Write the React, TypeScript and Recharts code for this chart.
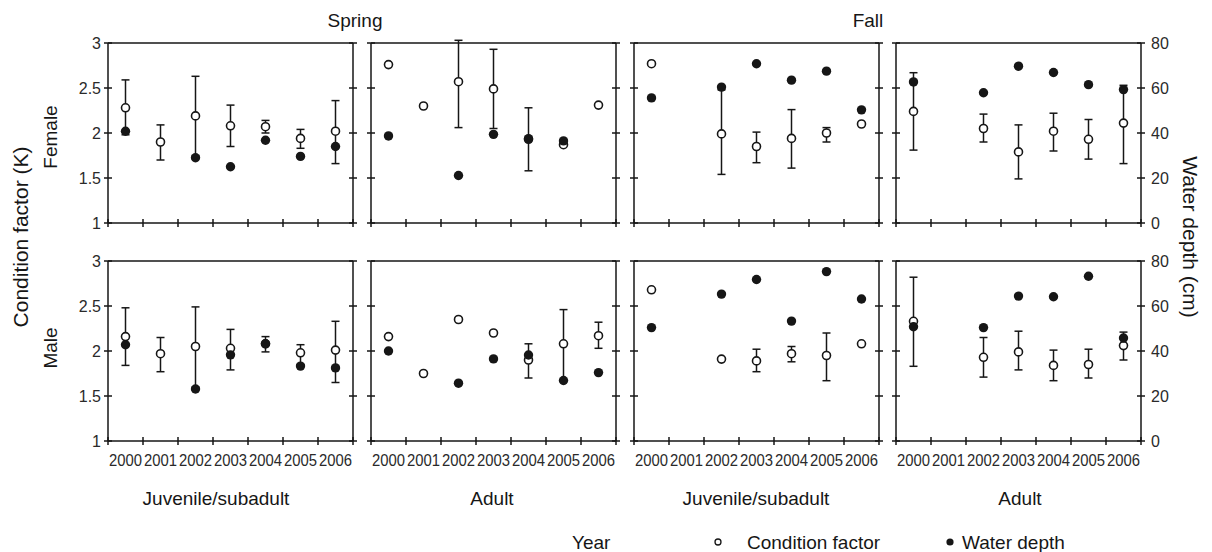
import { ComposedChart, Scatter, XAxis, YAxis, ErrorBar, ReferenceLine } from 'recharts';

const YEARS = ['2000', '2001', '2002', '2003', '2004', '2005', '2006'];
const K_TICKS = [1, 1.5, 2, 2.5, 3];
const DEPTH_TICKS = [0, 20, 40, 60, 80];

// spring, juvenile/subadult
const SPR_JUV_F_K     = [2.28, 1.90, 2.19, 2.08, 2.07, 1.94, 2.02];
const SPR_JUV_F_LO    = [1.98, 1.70, 1.75, 1.85, 2.00, 1.83, 1.66];
const SPR_JUV_F_HI    = [2.59, 2.09, 2.63, 2.31, 2.14, 2.04, 2.36];
const SPR_JUV_F_DEPTH = [40.8, null, 29.0, 25.0, 36.8, 29.6, 34.0];
const SPR_JUV_M_K     = [2.16, 1.97, 2.05, 2.03, 2.08, 1.98, 2.01];
const SPR_JUV_M_LO    = [1.84, 1.77, 1.60, 1.79, 1.99, 1.85, 1.65];
const SPR_JUV_M_HI    = [2.48, 2.15, 2.49, 2.24, 2.16, 2.07, 2.33];
const SPR_JUV_M_DEPTH = [42.8, null, 23.1, 38.3, 43.2, 33.3, 32.5];

// spring, adult
const SPR_AD_F_K      = [2.76, 2.30, 2.57, 2.49, 1.93, 1.87, 2.31];
const SPR_AD_F_LO     = [2.76, 2.30, 2.06, 2.05, 1.58, 1.87, 2.31];
const SPR_AD_F_HI     = [2.76, 2.30, 3.03, 2.93, 2.28, 1.87, 2.31];
const SPR_AD_F_DEPTH  = [38.7, null, 21.1, 39.4, 37.5, 36.5, null];
const SPR_AD_M_K      = [2.16, 1.75, 2.35, 2.20, 1.90, 2.08, 2.17];
const SPR_AD_M_LO     = [2.16, 1.75, 2.35, 2.20, 1.70, 1.68, 2.03];
const SPR_AD_M_HI     = [2.16, 1.75, 2.35, 2.20, 2.08, 2.46, 2.32];
const SPR_AD_M_DEPTH  = [40.0, null, 25.7, 36.5, 38.2, 26.9, 30.4];

// fall, juvenile/subadult
const FALL_JUV_F_K     = [2.77, null, 1.99, 1.85, 1.94, 2.00, 2.10];
const FALL_JUV_F_LO    = [2.77, null, 1.54, 1.67, 1.61, 1.90, 2.10];
const FALL_JUV_F_HI    = [2.77, null, 2.48, 2.01, 2.26, 2.06, 2.10];
const FALL_JUV_F_DEPTH = [55.6, null, 60.4, 70.8, 63.5, 67.5, 50.3];
const FALL_JUV_M_K     = [2.68, null, 1.91, 1.89, 1.97, 1.95, 2.08];
const FALL_JUV_M_LO    = [2.68, null, 1.91, 1.77, 1.88, 1.67, 2.08];
const FALL_JUV_M_HI    = [2.68, null, 1.91, 2.02, 2.05, 2.20, 2.08];
const FALL_JUV_M_DEPTH = [50.4, null, 65.3, 71.8, 53.3, 75.3, 63.1];

// fall, adult
const FALL_AD_F_K      = [2.24, null, 2.05, 1.79, 2.02, 1.93, 2.11];
const FALL_AD_F_LO     = [1.81, null, 1.90, 1.49, 1.80, 1.71, 1.66];
const FALL_AD_F_HI     = [2.67, null, 2.21, 2.09, 2.22, 2.15, 2.53];
const FALL_AD_F_DEPTH  = [62.7, null, 57.9, 69.7, 66.9, 61.5, 59.3];
const FALL_AD_M_K      = [2.33, null, 1.93, 1.99, 1.84, 1.85, 2.06];
const FALL_AD_M_LO     = [1.83, null, 1.71, 1.79, 1.67, 1.70, 1.90];
const FALL_AD_M_HI     = [2.82, null, 2.15, 2.22, 2.01, 2.02, 2.21];
const FALL_AD_M_DEPTH  = [50.8, null, 50.4, 64.4, 64.1, 73.2, 45.8];

const INK = '#161616';
const FONT = "Arial, 'Liberation Sans', sans-serif";
const LINE = { stroke: INK, strokeWidth: 1.5 };

const PLOT_W = 245;
const PLOT_H = 180;
const AXIS_W = 40;
const X_H = 30;
const M_TOP = 14;
const M_BOTTOM = 6;
const COL_LEFT = [108, 371, 634, 896];
const ROW_TOP = [43, 261];
const HALF_STEP = PLOT_W / YEARS.length / 2;

const PANELS = [
  { col: 0, row: 0, k: SPR_JUV_F_K, lo: SPR_JUV_F_LO, hi: SPR_JUV_F_HI, depth: SPR_JUV_F_DEPTH },
  { col: 1, row: 0, k: SPR_AD_F_K, lo: SPR_AD_F_LO, hi: SPR_AD_F_HI, depth: SPR_AD_F_DEPTH },
  { col: 2, row: 0, k: FALL_JUV_F_K, lo: FALL_JUV_F_LO, hi: FALL_JUV_F_HI, depth: FALL_JUV_F_DEPTH },
  { col: 3, row: 0, k: FALL_AD_F_K, lo: FALL_AD_F_LO, hi: FALL_AD_F_HI, depth: FALL_AD_F_DEPTH },
  { col: 0, row: 1, k: SPR_JUV_M_K, lo: SPR_JUV_M_LO, hi: SPR_JUV_M_HI, depth: SPR_JUV_M_DEPTH },
  { col: 1, row: 1, k: SPR_AD_M_K, lo: SPR_AD_M_LO, hi: SPR_AD_M_HI, depth: SPR_AD_M_DEPTH },
  { col: 2, row: 1, k: FALL_JUV_M_K, lo: FALL_JUV_M_LO, hi: FALL_JUV_M_HI, depth: FALL_JUV_M_DEPTH },
  { col: 3, row: 1, k: FALL_AD_M_K, lo: FALL_AD_M_LO, hi: FALL_AD_M_HI, depth: FALL_AD_M_DEPTH },
];

// ticks cross the axis line on both sides
function LeftTick({ x, y, payload, show }: any) {
  return (
    <g>
      <line x1={x - 4} x2={x + 4} y1={y} y2={y} stroke={INK} strokeWidth={1.5} />
      {show && (
        <text x={x - 7} y={y} dy={5.5} textAnchor="end" fontSize={16} fill="#2a2a2a" fontFamily={FONT}>
          {payload.value}
        </text>
      )}
    </g>
  );
}

function RightTick({ x, y, payload, show }: any) {
  return (
    <g>
      <line x1={x - 4} x2={x + 4} y1={y} y2={y} stroke={INK} strokeWidth={1.5} />
      {show && (
        <text x={x + 10} y={y} dy={5.5} textAnchor="start" fontSize={16} fill="#2a2a2a" fontFamily={FONT}>
          {payload.value}
        </text>
      )}
    </g>
  );
}

// x ticks sit on year boundaries, the year label goes in the middle of its slot
function YearTick({ x, y, index, show }: any) {
  const label = YEARS[index];
  return (
    <g>
      <line x1={x} x2={x} y1={y - 4} y2={y + 4} stroke={INK} strokeWidth={1.5} />
      {show && label && (
        <text x={x + HALF_STEP} y={y + 25} textAnchor="middle" fontSize={16} fill="#2a2a2a" fontFamily={FONT}
          textLength={33} lengthAdjust="spacingAndGlyphs">
          {label}
        </text>
      )}
    </g>
  );
}

const OpenDot = (p: any) => (
  <circle cx={p.cx} cy={p.cy} r={4} fill="#fff" stroke={INK} strokeWidth={1.6} />
);
const FilledDot = (p: any) => <circle cx={p.cx} cy={p.cy} r={4.7} fill={INK} />;

function Panel({ col, row, k, lo, hi, depth }: any) {
  const cf = YEARS.map((_, i) => ({ i, k: k[i], err: [k[i] - lo[i], hi[i] - k[i]] })).filter((p) => p.k != null);
  const wd = YEARS.map((_, i) => ({ i, d: depth[i] })).filter((p) => p.d != null);
  const domainX = [-0.5, YEARS.length - 0.5];
  const bounds = [...YEARS.map((_, i) => i - 0.5), YEARS.length - 0.5];
  const kTop = K_TICKS[K_TICKS.length - 1];

  return (
    <div style={{ position: 'absolute', left: COL_LEFT[col] - AXIS_W, top: ROW_TOP[row] - M_TOP }}>
      <ComposedChart
        width={PLOT_W + 2 * AXIS_W}
        height={M_TOP + PLOT_H + X_H + M_BOTTOM}
        margin={{ top: M_TOP, right: 0, bottom: M_BOTTOM, left: 0 }}
      >
        <XAxis xAxisId="yr" dataKey="i" type="number" domain={domainX} allowDataOverflow ticks={bounds} interval={0}
          tickSize={0} tickMargin={0} tickLine={false} axisLine={LINE} height={X_H}
          tick={(p: any) => <YearTick {...p} show={row === 1} />} />
        <YAxis yAxisId="k" type="number" domain={[K_TICKS[0], kTop]} allowDataOverflow
          ticks={K_TICKS} interval={0} width={AXIS_W} tickSize={0} tickMargin={0} tickLine={false} axisLine={LINE}
          tick={(p: any) => <LeftTick {...p} show={col === 0} />} />
        <YAxis yAxisId="d" orientation="right" type="number"
          domain={[DEPTH_TICKS[0], DEPTH_TICKS[DEPTH_TICKS.length - 1]]} allowDataOverflow
          ticks={DEPTH_TICKS} interval={0} width={AXIS_W} tickSize={0} tickMargin={0} tickLine={false} axisLine={LINE}
          tick={(p: any) => <RightTick {...p} show={col === 3} />} />
        <ReferenceLine y={kTop} xAxisId="yr" yAxisId="k" stroke={INK} strokeWidth={1.5} />
        <Scatter data={cf} dataKey="k" xAxisId="yr" yAxisId="k" shape={OpenDot} isAnimationActive={false}>
          <ErrorBar dataKey="err" direction="y" width={4} stroke={INK} strokeWidth={1.5} isAnimationActive={false} />
        </Scatter>
        <Scatter data={wd} dataKey="d" xAxisId="yr" yAxisId="d" shape={FilledDot} isAnimationActive={false} />
      </ComposedChart>
    </div>
  );
}

const T = { fontFamily: FONT, fill: INK } as const;

export default function App() {
  return (
    <div style={{ position: 'absolute', left: 0, top: 0, width: 1212, height: 552, background: '#fff' }}>
      {PANELS.map((p, i) => (
        <Panel key={i} {...p} />
      ))}
      <svg width={1212} height={552} style={{ position: 'absolute', left: 0, top: 0, pointerEvents: 'none' }}>
        <text x={355} y={27} fontSize={19} textAnchor="middle" {...T}>Spring</text>
        <text x={868} y={27} fontSize={19} textAnchor="middle" {...T}>Fall</text>
        <text transform="translate(28,237) rotate(-90)" fontSize={21} textAnchor="middle" {...T}>Condition factor (K)</text>
        <text transform="translate(57,137) rotate(-90)" fontSize={19} textAnchor="middle" {...T}>Female</text>
        <text transform="translate(57,348) rotate(-90)" fontSize={19} textAnchor="middle" {...T}>Male</text>
        <text transform="translate(1183,237) rotate(90)" fontSize={21} textAnchor="middle" {...T}>Water depth (cm)</text>
        <text x={216} y={505} fontSize={19} textAnchor="middle" {...T}>Juvenile/subadult</text>
        <text x={492} y={505} fontSize={19} textAnchor="middle" {...T}>Adult</text>
        <text x={756} y={505} fontSize={19} textAnchor="middle" {...T}>Juvenile/subadult</text>
        <text x={1020} y={505} fontSize={19} textAnchor="middle" {...T}>Adult</text>
        <text x={572} y={549} fontSize={19} {...T}>Year</text>
        <circle cx={718} cy={542} r={3} fill="#fff" stroke={INK} strokeWidth={1.3} />
        <text x={747} y={549} fontSize={19} {...T}>Condition factor</text>
        <circle cx={950} cy={542} r={3.6} fill={INK} />
        <text x={962} y={549} fontSize={19} {...T}>Water depth</text>
      </svg>
    </div>
  );
}
